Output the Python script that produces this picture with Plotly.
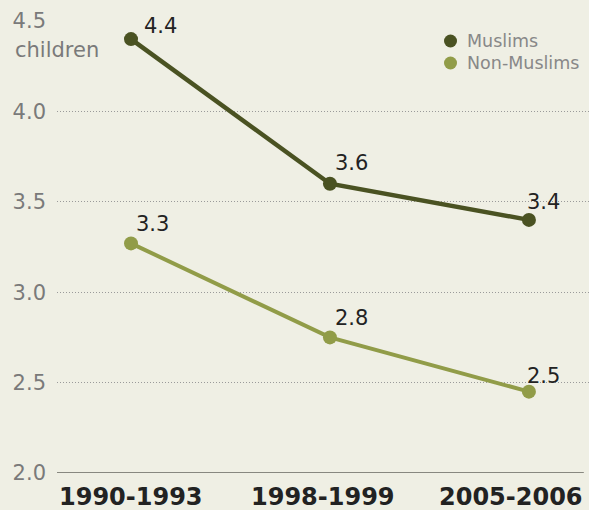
import plotly.graph_objects as go

periods = ["1990-1993", "1998-1999", "2005-2006"]
muslims = [4.4, 3.6, 3.4]
non_muslims = [3.27, 2.75, 2.45]
muslims_labels = ["4.4", "3.6", "3.4"]
non_muslims_labels = ["3.3", "2.8", "2.5"]
series_names = ["Muslims", "Non-Muslims"]
y_ticks = [2.0, 2.5, 3.0, 3.5, 4.0, 4.5]
y_tick_text = ["2.0", "2.5", "3.0", "3.5", "4.0", "4.5"]

DARK = "#4a5222"
LIGHT = "#919c48"
BG = "#efefe4"
FONT = "DejaVu Sans, Verdana, sans-serif"

W, H = 589, 510
L, R, T, B = 57, 0, 21, 37
PW, PH = W - L - R, H - T - B

def px_x(px):
    return (px - L) / PW

def px_y(py):
    return 1 - (py - T) / PH

xi = list(range(len(periods)))
fig = go.Figure()

for vals, color, lw in [(muslims, DARK, 4.5), (non_muslims, LIGHT, 4)]:
    fig.add_trace(go.Scatter(
        x=xi, y=vals, mode="lines+markers",
        line=dict(color=color, width=lw),
        marker=dict(color=color, size=14),
        showlegend=False, cliponaxis=False, hoverinfo="skip"))

# value labels: (xshift, yshift) offsets per point index
offsets_m = [(11, 13), (3, 21), (-4, 18)]
offsets_n = [(3, 19), (3, 19), (-4, 16)]
for vals, labels, offs in [(muslims, muslims_labels, offsets_m),
                           (non_muslims, non_muslims_labels, offsets_n)]:
    for i, (v, t) in enumerate(zip(vals, labels)):
        fig.add_annotation(x=xi[i], y=v, text=t, showarrow=False,
                           xanchor="left", yanchor="middle",
                           xshift=offs[i][0], yshift=offs[i][1],
                           font=dict(family=FONT, size=21, color="#222222"))

# category labels under the baseline
cat_xshift = [0, -7, -18]
for i, p in enumerate(periods):
    fig.add_annotation(x=xi[i], y=0, yref="paper", text="<b>" + p + "</b>",
                       showarrow=False, xanchor="center", yanchor="middle",
                       xshift=cat_xshift[i], yshift=-24,
                       font=dict(family=FONT, size=24, color="#222222"))

# legend (drawn manually)
legend_rows = [41, 63]
for name, color, ry in zip(series_names, [DARK, LIGHT], legend_rows):
    fig.add_shape(type="circle", xref="paper", yref="paper",
                  x0=px_x(444), x1=px_x(457), y0=px_y(ry + 6.5), y1=px_y(ry - 6.5),
                  fillcolor=color, line=dict(width=0))
    fig.add_annotation(xref="paper", yref="paper", x=px_x(465), y=px_y(ry),
                       text=name, showarrow=False, xanchor="left", yanchor="middle",
                       font=dict(family=FONT, size=17.5, color="#888888"))

# baseline
fig.add_shape(type="line", xref="x", yref="y", x0=-0.372, x1=2.276, y0=2.0, y1=2.0,
              line=dict(color="#888880", width=2), layer="above")

fig.add_annotation(xref="paper", yref="paper", x=px_x(13), y=px_y(50),
                   text="children", showarrow=False, xanchor="left", yanchor="middle",
                   font=dict(family=FONT, size=21, color="#7a7a7a"))

fig.update_layout(
    width=W, height=H,
    margin=dict(l=L, r=R, t=T, b=B, pad=0),
    paper_bgcolor=BG, plot_bgcolor=BG,
    font=dict(family=FONT),
    showlegend=False,
    xaxis=dict(range=[-0.372, 2.302], tickvals=xi, ticktext=["", "", ""],
               showgrid=False, zeroline=False, showline=False,
               ticks="", fixedrange=True),
    yaxis=dict(range=[2.0, 4.5], tickvals=y_ticks, ticktext=y_tick_text,
               showgrid=True, gridcolor="#9a9a9a", griddash="1px,2px", gridwidth=1,
               zeroline=False, showline=False, ticks="",
               ticklabelstandoff=10,
               tickfont=dict(family=FONT, size=21, color="#7a7a7a")),
)

fig.write_html("out.html", config={"displayModeBar": False},
               post_script="document.body.style.margin='0px';document.body.style.overflow='hidden';")
